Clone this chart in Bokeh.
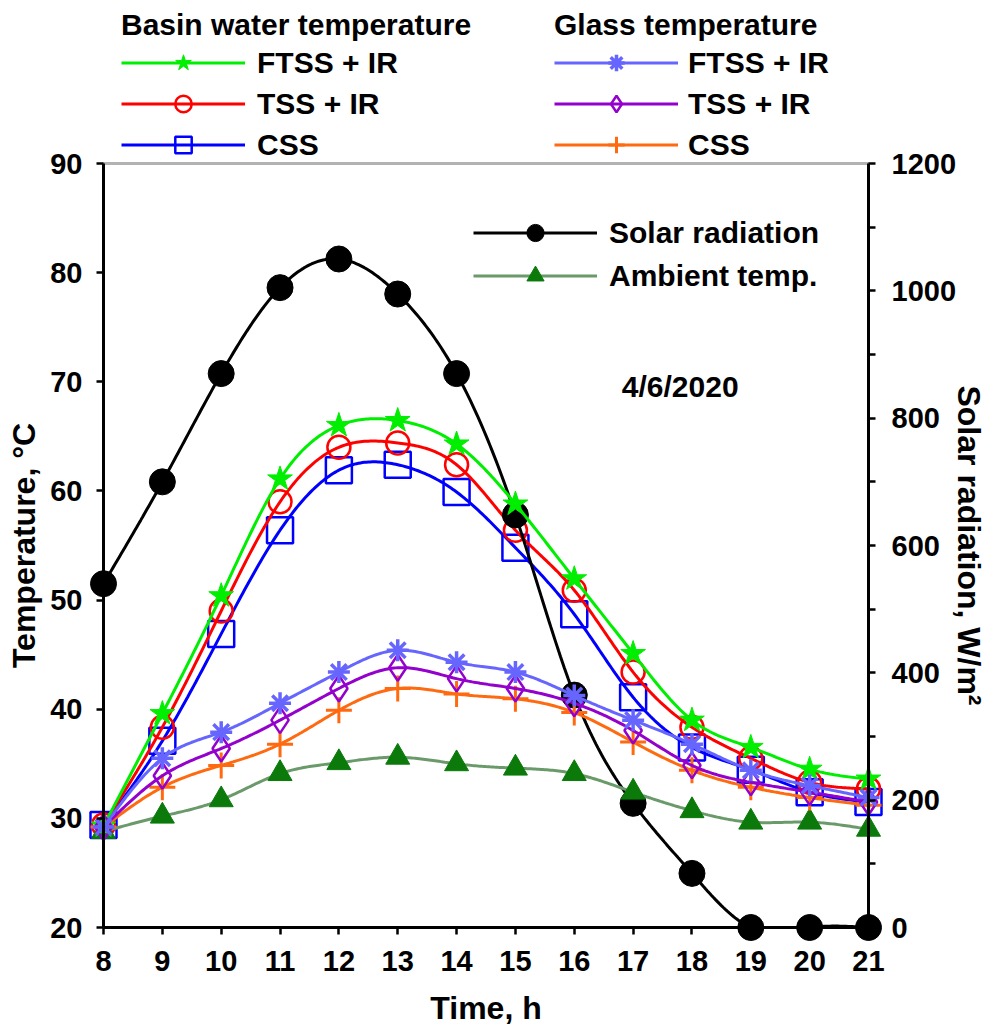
import numpy as np
from bokeh.plotting import figure
from bokeh.models import (Range1d, LinearAxis, Legend, LegendItem, Label, FixedTicker,
                          BoxAnnotation)
from bokeh.embed import file_html
from bokeh.resources import INLINE

# ---------------- data ----------------
hours = [8, 9, 10, 11, 12, 13, 14, 15, 16, 17, 18, 19, 20, 21]
solar_radiation = [540, 700, 870, 1005, 1050, 995, 870, 648, 365, 195, 85, 0, 0, 0]
ambient_temp = [28.8, 30.2, 31.7, 34.1, 35.1, 35.6, 35.0, 34.6, 34.1, 32.4, 30.7, 29.65, 29.65, 29.0]
basin_ftss_ir = [29.3, 39.6, 50.4, 61.1, 66.0, 66.45, 64.3, 58.8, 51.95, 45.1, 39.0, 36.5, 34.5, 33.6]
basin_tss_ir = [29.4, 38.35, 49.0, 59.0, 64.0, 64.4, 62.4, 56.4, 50.9, 43.4, 38.35, 35.5, 33.3, 32.7]
basin_css = [29.4, 37.1, 46.9, 56.4, 61.9, 62.4, 59.9, 54.8, 48.7, 41.1, 36.5, 34.45, 32.4, 31.5]
glass_ftss_ir = [29.2, 35.5, 37.9, 40.55, 43.4, 45.4, 44.3, 43.4, 41.25, 39.0, 36.8, 34.4, 33.0, 31.9]
glass_tss_ir = [29.2, 33.9, 36.4, 39.0, 41.9, 43.8, 42.8, 41.9, 40.55, 38.05, 34.85, 33.3, 32.4, 31.5]
glass_css = [29.2, 32.85, 34.85, 36.8, 39.9, 41.9, 41.4, 40.95, 39.7, 37.0, 34.4, 32.85, 31.9, 31.2]

x_ticks = hours
temp_ticks = [20, 30, 40, 50, 60, 70, 80, 90]
rad_ticks = [0, 200, 400, 600, 800, 1000, 1200]
rad_minor_ticks = [100, 300, 500, 700, 900, 1100]
date_text = "4/6/2020"

FONT = "Liberation Sans"
W, H = 990, 1030
# plot area (axes box) in canvas pixels
AX_L, AX_R, AX_T, AX_B = 103, 868, 163, 927

X0, X1 = hours[0], hours[-1]
T0, T1 = temp_ticks[0], temp_ticks[-1]
R0, R1 = rad_ticks[0], rad_ticks[-1]


def spline(x, y, n=30, floor=None):
    """Natural cubic spline through the data points (for drawing a smooth line)."""
    x = np.asarray(x, float)
    y = np.asarray(y, float)
    k = len(x)
    h = np.diff(x)
    A = np.zeros((k, k))
    b = np.zeros(k)
    A[0, 0] = A[-1, -1] = 1.0
    for i in range(1, k - 1):
        A[i, i - 1] = h[i - 1]
        A[i, i] = 2 * (h[i - 1] + h[i])
        A[i, i + 1] = h[i]
        b[i] = 6 * ((y[i + 1] - y[i]) / h[i] - (y[i] - y[i - 1]) / h[i - 1])
    M = np.linalg.solve(A, b)
    xs, ys = [], []
    for i in range(k - 1):
        t = np.linspace(x[i], x[i + 1], n, endpoint=(i == k - 2))
        a = x[i + 1] - t
        c = t - x[i]
        s = (M[i] * a ** 3 / (6 * h[i]) + M[i + 1] * c ** 3 / (6 * h[i])
             + (y[i] / h[i] - M[i] * h[i] / 6) * a + (y[i + 1] / h[i] - M[i + 1] * h[i] / 6) * c)
        if floor is not None:
            s = np.maximum(s, floor)
        xs.extend(t.tolist())
        ys.extend(s.tolist())
    return xs, ys


# ranges extended so that the whole canvas is the frame (nothing gets clipped)
xpp = (X1 - X0) / (AX_R - AX_L)
tpp = (T1 - T0) / (AX_B - AX_T)
rpp = (R1 - R0) / (AX_B - AX_T)
x_range = Range1d(X0 - AX_L * xpp, X1 + (W - AX_R) * xpp)
y_range = Range1d(T0 - (H - AX_B) * tpp, T1 + AX_T * tpp)
rad_range = Range1d(R0 - (H - AX_B) * rpp, R1 + AX_T * rpp)

p = figure(width=W, height=H, output_backend="svg", toolbar_location=None,
           x_range=x_range, y_range=y_range, x_axis_location=None, y_axis_location=None,
           min_border=0)
p.extra_y_ranges = {"rad": rad_range}
p.xgrid.visible = False
p.ygrid.visible = False
p.outline_line_color = None
p.background_fill_color = "white"
p.border_fill_color = "white"


def style_axis(ax):
    ax.axis_line_width = 3
    ax.axis_line_color = "black"
    ax.major_tick_line_width = 2.5
    ax.minor_tick_line_width = 2.5
    ax.major_tick_in = 0
    ax.major_tick_out = 7
    ax.minor_tick_in = 0
    ax.minor_tick_out = 7
    ax.major_label_text_font = FONT
    ax.major_label_text_font_style = "bold"
    ax.major_label_text_font_size = "29px"
    ax.major_label_text_color = "black"
    ax.axis_label_text_font = FONT
    ax.axis_label_text_font_style = "bold"
    ax.axis_label_text_font_size = "32px"
    ax.axis_label_text_color = "black"


xa = LinearAxis(ticker=FixedTicker(ticks=x_ticks), fixed_location=T0, bounds=(X0, X1))
style_axis(xa)
xa.minor_tick_line_color = None
xa.axis_label = "Time, h"
xa.major_label_standoff = 16
xa.axis_label_standoff = 16
p.add_layout(xa, "below")

ya = LinearAxis(ticker=FixedTicker(ticks=temp_ticks), fixed_location=X0, bounds=(T0, T1))
style_axis(ya)
ya.minor_tick_line_color = None
ya.axis_label = "Temperature, °C"
ya.major_label_standoff = 14
ya.axis_label_standoff = 5
p.add_layout(ya, "left")

ra = LinearAxis(y_range_name="rad", ticker=FixedTicker(ticks=rad_ticks, minor_ticks=rad_minor_ticks),
                fixed_location=X1, bounds=(R0, R1))
style_axis(ra)
ra.axis_label = "Solar radiation, W/m²"
ra.major_label_standoff = 16
ra.axis_label_standoff = -8
p.add_layout(ra, "right")

# box around the plot area (top edge)
p.add_layout(BoxAnnotation(left=X0, right=X1, bottom=T0, top=T1, fill_alpha=0,
                           line_color="black", line_width=3, level="underlay"))

xs_d = hours


def series(vals, color, marker, size, fill, lw_marker, y_range_name="default", line_color=None,
           floor=None):
    sx, sy = spline(xs_d, vals, floor=floor)
    lr = p.line(sx, sy, line_color=line_color or color, line_width=3, y_range_name=y_range_name)
    sr = p.scatter(xs_d, vals, marker=marker, size=size, line_color=color,
                   fill_color=fill, line_width=lw_marker, y_range_name=y_range_name)
    return [lr, sr]


r_bcss = series(basin_css, "#0000FF", "square", 26, None, 2.5)
r_btss = series(basin_tss_ir, "#FF0000", "circle", 23, None, 2.5)
r_solar = series(solar_radiation, "black", "circle", 26, "black", 1, y_range_name="rad", floor=R0)
r_amb = series(ambient_temp, "#0B7A0B", "triangle", 24, "#0B7A0B", 1, line_color="#6A9A6A")
r_bftss = series(basin_ftss_ir, "#00EE00", "star", 26, "#00EE00", 1)
r_gcss = series(glass_css, "#FF6A10", "cross", 26, None, 3)
r_gtss = series(glass_tss_ir, "#9400CC", "diamond", 26, None, 2.5)
r_gftss = series(glass_ftss_ir, "#6666FF", "asterisk", 22, None, 3.5)


def make_legend(items, loc, title=None, glyph_h=41, standoff=12):
    lg = Legend(items=items, location=loc, orientation="vertical",
                glyph_width=124, glyph_height=glyph_h, label_standoff=standoff,
                spacing=0, padding=0, margin=0,
                border_line_alpha=0, background_fill_alpha=0,
                label_text_font=FONT, label_text_font_style="bold",
                label_text_font_size="30px", label_text_color="black",
                label_height=glyph_h)
    if title:
        lg.title = title
        lg.title_text_font = FONT
        lg.title_text_font_style = "bold"
        lg.title_text_font_size = "30px"
        lg.title_text_color = "black"
        lg.title_standoff = 0
    p.add_layout(lg)
    return lg


# legend locations: (left, bottom) in canvas pixels measured from bottom-left
make_legend([LegendItem(label="FTSS + IR", renderers=r_bftss),
             LegendItem(label="TSS + IR", renderers=r_btss),
             LegendItem(label="CSS", renderers=r_bcss)],
            (121, 865), title="Basin water temperature")
make_legend([LegendItem(label="FTSS + IR", renderers=r_gftss),
             LegendItem(label="TSS + IR", renderers=r_gtss),
             LegendItem(label="CSS", renderers=r_gcss)],
            (554, 865), title="Glass temperature", standoff=10)
make_legend([LegendItem(label="Solar radiation", renderers=r_solar),
             LegendItem(label="Ambient temp.", renderers=r_amb)],
            (473, 733), glyph_h=43)

p.add_layout(Label(x=17.8, y=69.6, text=date_text, text_align="center", text_baseline="middle",
                   text_font=FONT, text_font_style="bold", text_font_size="30px", text_color="black"))

open("out.html", "w").write(file_html(p, INLINE))
